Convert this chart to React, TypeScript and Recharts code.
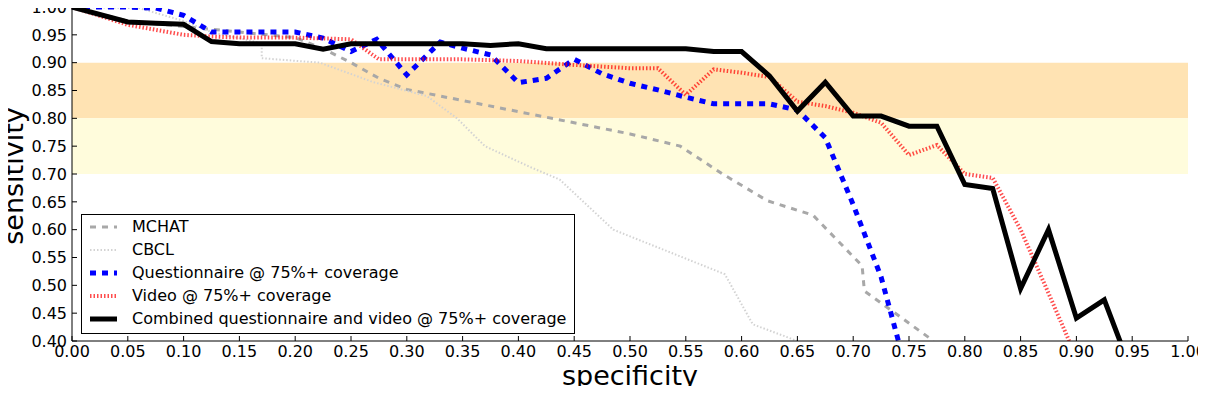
import { LineChart, Line, XAxis, YAxis, ReferenceArea, Legend } from "recharts"

const specTicks = [0, 0.05, 0.1, 0.15, 0.2, 0.25, 0.3, 0.35, 0.4, 0.45, 0.5, 0.55, 0.6, 0.65, 0.7, 0.75, 0.8, 0.85, 0.9, 0.95, 1]
const sensTicks = [0.4, 0.45, 0.5, 0.55, 0.6, 0.65, 0.7, 0.75, 0.8, 0.85, 0.9, 0.95, 1]

const mchatSpec = [0, 0.05, 0.1, 0.15, 0.2, 0.225, 0.25, 0.275, 0.3, 0.35, 0.4, 0.45, 0.5, 0.545, 0.583, 0.623, 0.664, 0.708, 0.71, 0.75, 0.772]
const mchatSens = [1.0, 0.975, 0.965, 0.955, 0.945, 0.925, 0.9, 0.872, 0.852, 0.832, 0.812, 0.792, 0.772, 0.75, 0.7, 0.652, 0.626, 0.535, 0.49, 0.432, 0.4]

const cbclSpec = [0, 0.06, 0.1, 0.125, 0.17, 0.17, 0.222, 0.27, 0.318, 0.345, 0.37, 0.41, 0.437, 0.485, 0.585, 0.61, 0.65]
const cbclSens = [1.0, 0.998, 0.975, 0.955, 0.935, 0.908, 0.9, 0.865, 0.84, 0.8, 0.75, 0.713, 0.69, 0.6, 0.52, 0.43, 0.4]

const questSpec = [0, 0.05, 0.075, 0.1, 0.125, 0.15, 0.175, 0.2, 0.225, 0.25, 0.273, 0.3, 0.33, 0.35, 0.375, 0.4, 0.425, 0.45, 0.475, 0.5, 0.525, 0.55, 0.575, 0.6, 0.625, 0.65, 0.675, 0.7, 0.725, 0.75]
const questSens = [1.0, 1.0, 0.998, 0.985, 0.955, 0.955, 0.955, 0.955, 0.944, 0.92, 0.942, 0.878, 0.937, 0.926, 0.914, 0.864, 0.872, 0.906, 0.88, 0.863, 0.851, 0.838, 0.826, 0.826, 0.826, 0.815, 0.765, 0.645, 0.515, 0.33]

const videoSpec = [0, 0.05, 0.1, 0.125, 0.15, 0.2, 0.25, 0.275, 0.3, 0.35, 0.4, 0.45, 0.5, 0.525, 0.55, 0.575, 0.6, 0.625, 0.65, 0.675, 0.7, 0.725, 0.75, 0.775, 0.8, 0.825, 0.85, 0.875, 0.9]
const videoSens = [1.0, 0.968, 0.95, 0.947, 0.945, 0.945, 0.942, 0.906, 0.906, 0.906, 0.903, 0.896, 0.89, 0.89, 0.842, 0.888, 0.882, 0.874, 0.83, 0.822, 0.81, 0.792, 0.734, 0.752, 0.7, 0.693, 0.6, 0.486, 0.37]

const combSpec = [0, 0.05, 0.075, 0.1, 0.125, 0.15, 0.2, 0.225, 0.25, 0.35, 0.375, 0.4, 0.425, 0.55, 0.575, 0.6, 0.625, 0.65, 0.675, 0.7, 0.725, 0.75, 0.775, 0.8, 0.825, 0.85, 0.875, 0.9, 0.925, 0.95]
const combSens = [1.0, 0.973, 0.971, 0.969, 0.938, 0.934, 0.934, 0.924, 0.934, 0.934, 0.931, 0.934, 0.925, 0.925, 0.92, 0.92, 0.876, 0.813, 0.865, 0.804, 0.804, 0.786, 0.786, 0.681, 0.674, 0.494, 0.6, 0.441, 0.474, 0.342]

const toPoints = (spec: number[], sens: number[]) => spec.map((x, i) => ({ spec: x, sens: sens[i] }))

const series = [
  { name: "MCHAT", data: toPoints(mchatSpec, mchatSens), stroke: "#a8a8a8", width: 3, dash: "6 6", opacity: 1 },
  { name: "CBCL", data: toPoints(cbclSpec, cbclSens), stroke: "#d3d3d3", width: 2, dash: "1.5 2", opacity: 1 },
  { name: "Questionnaire @ 75%+ coverage", data: toPoints(questSpec, questSens), stroke: "#0000ff", width: 5, dash: "6 6", opacity: 1 },
  { name: "Video @ 75%+ coverage", data: toPoints(videoSpec, videoSens), stroke: "#ff0000", width: 4, dash: "1.5 2", opacity: 0.7 },
  { name: "Combined questionnaire and video @ 75%+ coverage", data: toPoints(combSpec, combSens), stroke: "#000000", width: 5, dash: undefined, opacity: 1 },
]

const fmt = (v: number) => v.toFixed(2)

const YLabel = ({ viewBox }: any) => {
  const cx = viewBox.x + 23
  const cy = viewBox.y + viewBox.height / 2 + 2
  return (
    <text x={cx} y={cy} transform={`rotate(-90, ${cx}, ${cy})`} textAnchor="middle" fontSize={27} fill="#000">
      sensitivity
    </text>
  )
}

const XLabel = ({ viewBox }: any) => (
  <text x={viewBox.x + viewBox.width / 2} y={viewBox.y + 44} textAnchor="middle" fontSize={27} fill="#000">
    specificity
  </text>
)

const LegendBox = () => (
  <div style={{ width: 492, height: 118, border: "1px solid #000", background: "#fff", fontFamily: "DejaVu Sans" }}>
    {series.map((s) => (
      <div key={s.name} style={{ display: "flex", alignItems: "center", height: 23 }}>
        <svg width={50} height={10} style={{ flex: "none" }}>
          <line x1={8} x2={35} y1={5} y2={5} stroke={s.stroke} strokeWidth={s.width} strokeDasharray={s.dash} strokeOpacity={s.opacity} />
        </svg>
        <span style={{ fontSize: 16, color: "#000", whiteSpace: "nowrap" }}>{s.name}</span>
      </div>
    ))}
  </div>
)

export default function App() {
  return (
    <div style={{ margin: -8, width: 1206, height: 394, background: "#fff", fontFamily: "DejaVu Sans" }}>
      <LineChart width={1206} height={394} margin={{ top: 7, right: 18, bottom: 0, left: 0 }}>
        <ReferenceArea y1={0.8} y2={0.9} fill="#ffe3b3" fillOpacity={1} stroke="none" />
        <ReferenceArea y1={0.7} y2={0.8} fill="#fffcdc" fillOpacity={1} stroke="none" />
        <XAxis
          dataKey="spec"
          type="number"
          domain={[0, 1]}
          ticks={specTicks}
          interval={0}
          tickFormatter={fmt}
          height={53}
          tickSize={-5}
          tickMargin={10}
          stroke="#000"
          tick={{ fill: "#000", fontSize: 16 }}
          label={<XLabel />}
        />
        <XAxis xAxisId="top" orientation="top" type="number" domain={[0, 1]} ticks={specTicks} interval={0} height={0} tickSize={-5} tick={false} stroke="#000" />
        <YAxis
          type="number"
          domain={[0.4, 1]}
          ticks={sensTicks}
          interval={0}
          allowDataOverflow
          tickFormatter={fmt}
          width={72}
          tickSize={-5}
          tickMargin={10}
          stroke="#000"
          tick={{ fill: "#000", fontSize: 16 }}
          label={<YLabel />}
        />
        <YAxis yAxisId="right" orientation="right" type="number" domain={[0.4, 1]} ticks={sensTicks} interval={0} allowDataOverflow width={0} tickSize={-5} tick={false} stroke="#000" />
        {series.map((s) => (
          <Line
            key={s.name}
            data={s.data}
            dataKey="sens"
            name={s.name}
            type="linear"
            stroke={s.stroke}
            strokeWidth={s.width}
            strokeDasharray={s.dash}
            strokeOpacity={s.opacity}
            dot={false}
            activeDot={false}
            isAnimationActive={false}
          />
        ))}
        <Legend
          layout="vertical"
          align="center"
          verticalAlign="middle"
          content={<LegendBox />}
          wrapperStyle={{ left: 81, top: 214, width: 494, height: 120 }}
        />
      </LineChart>
    </div>
  )
}
